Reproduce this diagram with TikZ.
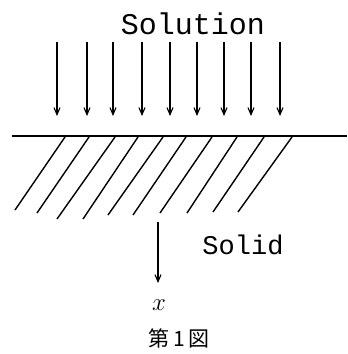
\documentclass[tikz,border=0pt]{standalone}
\usepackage{fontspec}
\newfontfamily\handfont{Liberation Mono}
\newfontfamily\cjk{Noto Sans CJK JP}
\usetikzlibrary{arrows.meta}
\tikzset{
  flow/.style={line width=1.1pt,-{Straight Barb[length=7pt,width=6pt]}},
  hatchline/.style={line width=1.4pt},
  surface/.style={line width=2pt},
  label/.style={inner sep=0pt,font=\handfont}
}
\begin{document}
\begin{tikzpicture}[x=1pt,y=-1pt]
\useasboundingbox (0,0) rectangle (348,354);
% label
\node[label,font=\handfont\fontsize{30}{30}\selectfont] (sol) at (193,24) {Solution};
% flux arrows
\foreach \i/\x in {1/57,2/87,3/113,4/142,5/170,6/197,7/224,8/251,9/280}{
  \coordinate (a\i) at (\x,42);
  \coordinate (b\i) at (\x,116);
  \draw[flow] (a\i) -- (b\i);
}
% surface
\coordinate (sl) at (12,136);
\coordinate (sr) at (347,136);
\draw[surface] (sl) -- (sr);
% hatching
\foreach \i/\xt/\xb/\yb in {1/65/15/210,2/89/37/213,3/115/57/219,4/138/83/219,5/163/108/215,6/186/133/215,7/212/160/213,8/237/187/213,9/264/213/212,10/292/238/212}{
  \coordinate (h\i) at (\xt,137);
  \coordinate (g\i) at (\xb,\yb);
  \draw[hatchline] (h\i) -- (g\i);
}
% depth arrow
\coordinate (dtop) at (158,222);
\coordinate (dbot) at (158,283);
\draw[flow] (dtop) -- (dbot);
\node[label,font=\handfont\fontsize{27}{27}\selectfont] (solid) at (243,245) {Solid};
\node[inner sep=0pt,font=\fontsize{28}{28}\selectfont] (xx) at (159,305) {$x$};
\node[inner sep=0pt,font=\cjk\fontsize{21}{21}\selectfont] (cap) at (179,338) {第\,1\,図};
\end{tikzpicture}
\end{document}
